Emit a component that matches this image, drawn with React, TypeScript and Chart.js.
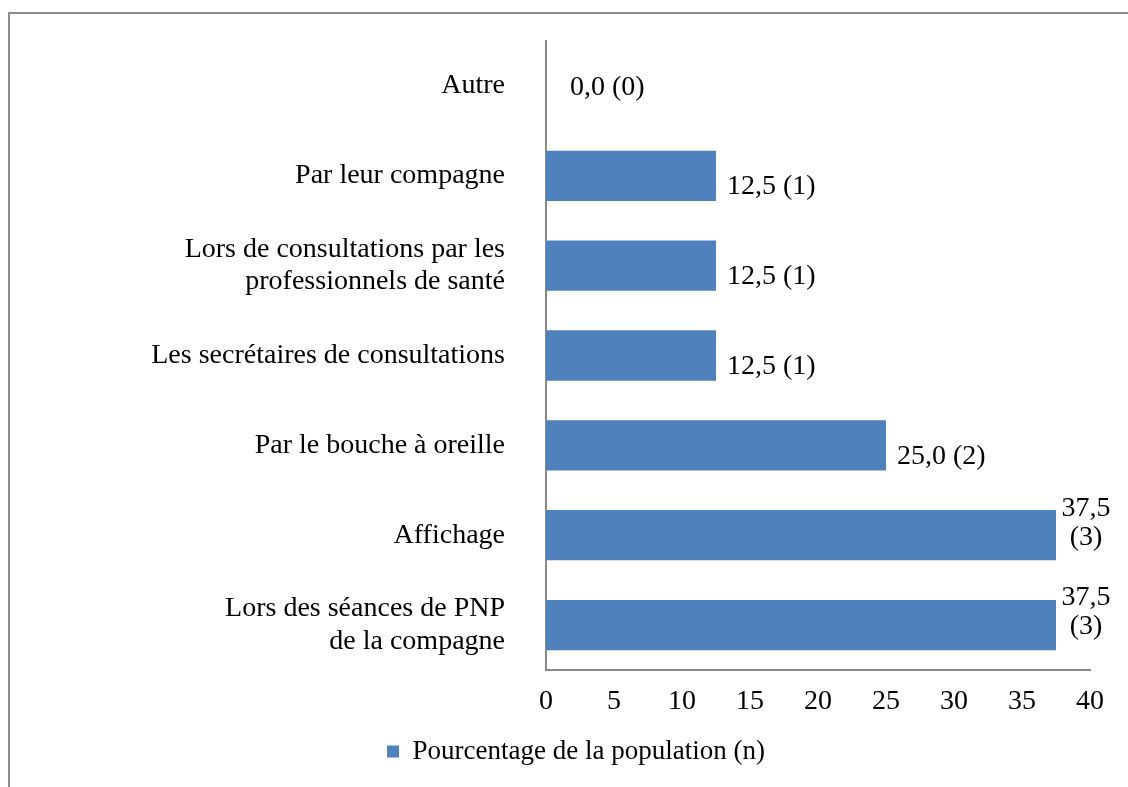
import React, { useEffect, useRef } from "react";
import { Chart, registerables } from "chart.js";

Chart.register(...registerables);

const categories: (string | string[])[] = [
  "Autre",
  "Par leur compagne",
  ["Lors de consultations par les", "professionnels de santé"],
  "Les secrétaires de consultations",
  "Par le bouche à oreille",
  "Affichage",
  ["Lors des séances de PNP", "de la compagne"],
];
const percentages = [0, 12.5, 12.5, 12.5, 25, 37.5, 37.5];
const counts = [0, 1, 1, 1, 2, 3, 3];
const seriesLabel = "Pourcentage de la population (n)";
const xTicks = [0, 5, 10, 15, 20, 25, 30, 35, 40];

const FONT = "'Liberation Serif', 'Times New Roman', serif";
const BAR = "#4F81BD";
const AXIS = "#8a8a8a";

const fmt = (v: number) => v.toFixed(1).replace(".", ",");

const labelPlugin = {
  id: "barValueLabels",
  afterDatasetsDraw(chart: any) {
    const ctx = chart.ctx;
    const meta = chart.getDatasetMeta(0);
    const xScale = chart.scales.x;
    const zeroX = xScale.getPixelForValue(0);
    ctx.save();
    ctx.font = `28px ${FONT}`;
    ctx.fillStyle = "#000";
    ctx.textBaseline = "middle";
    meta.data.forEach((bar: any, i: number) => {
      const v = percentages[i];
      const n = counts[i];
      const end = bar.x;
      const y = bar.y;
      if (end + 110 > chart.chartArea.right + 30) {
        ctx.textAlign = "center";
        const cx = end + 30;
        ctx.fillText(fmt(v), cx, y - 27);
        ctx.fillText(`(${n})`, cx, y + 2);
      } else {
        ctx.textAlign = "left";
        const x = Math.max(end + 11, zeroX + 24);
        ctx.fillText(`${fmt(v)} (${n})`, x, y + (v === 0 ? 2 : 11));
      }
    });
    ctx.restore();
  },
};

export default function App() {
  const ref = useRef<HTMLCanvasElement | null>(null);
  useEffect(() => {
    if (!ref.current) return;
    const chart = new Chart(ref.current, {
      type: "bar",
      data: {
        labels: categories,
        datasets: [
          {
            label: seriesLabel,
            data: percentages,
            backgroundColor: BAR,
            borderWidth: 0,
            barPercentage: 1,
            categoryPercentage: 0.56,
          },
        ],
      },
      plugins: [labelPlugin],
      options: {
        indexAxis: "y",
        responsive: false,
        animation: false,
        layout: { padding: { left: 62, right: 38, top: 41, bottom: 12 } },
        scales: {
          x: {
            min: 0,
            max: 40,
            afterBuildTicks: (s: any) => {
              s.ticks = xTicks.map((v) => ({ value: v }));
            },
            afterFit: (s: any) => {
              s.height = 58;
              s.paddingLeft = 0;
              s.paddingRight = 0;
            },
            grid: { display: false, drawTicks: false },
            border: { display: true, color: AXIS, width: 2 },
            ticks: {
              color: "#000",
              font: { family: FONT, size: 28 },
              padding: 15,
            },
          },
          y: {
            afterFit: (s: any) => {
              s.width = 484;
              s.paddingTop = 0;
              s.paddingBottom = 0;
            },
            grid: { display: false, drawTicks: false },
            border: { display: true, color: AXIS, width: 2 },
            ticks: {
              color: "#000",
              font: { family: FONT, size: 28, lineHeight: 1.17 },
              padding: 41,
              autoSkip: false,
            },
          },
        },
        plugins: {
          legend: {
            position: "bottom",
            labels: {
              color: "#000",
              font: { family: FONT, size: 27 },
              boxWidth: 12,
              boxHeight: 12,
              padding: 10,
            },
          },
          tooltip: { enabled: false },
        },
      },
    } as any);
    return () => chart.destroy();
  }, []);
  return (
    <>
      <div
        style={{
          position: "fixed",
          left: 8,
          top: 12,
          width: 1120,
          height: 775,
          borderTop: "2px solid #8c8c8c",
          borderLeft: "2px solid #8c8c8c",
          boxSizing: "border-box",
          pointerEvents: "none",
        }}
      />
      <canvas
        ref={ref}
        width={1128}
        height={787}
        style={{ position: "fixed", left: 0, top: 0, width: 1128, height: 787 }}
      />
    </>
  );
}
